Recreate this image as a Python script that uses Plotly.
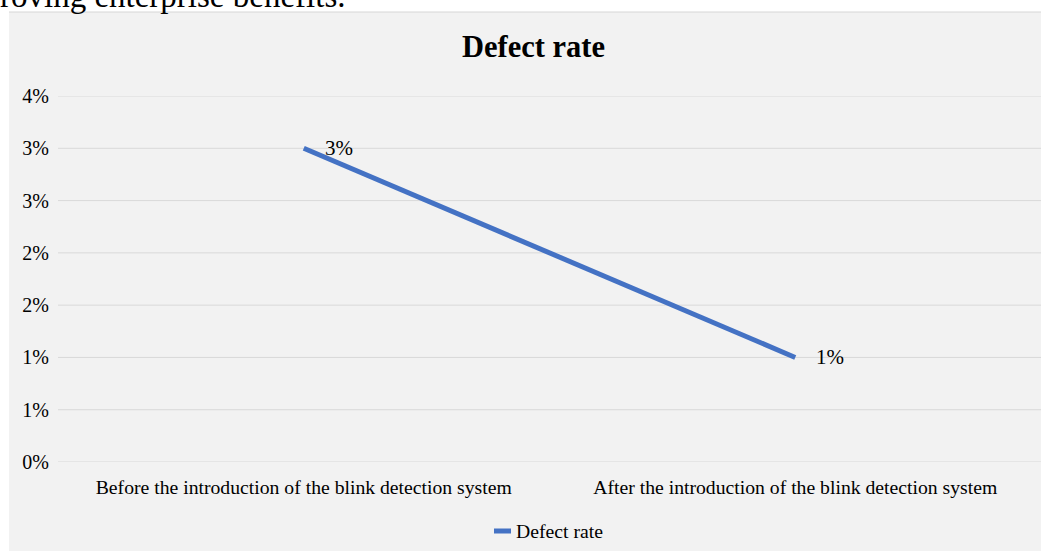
import plotly.graph_objects as go

# Chart data
categories = [
    "Before the introduction of the blink detection system",
    "After the introduction of the blink detection system",
]
defect_rate = [0.03, 0.01]
series_name = "Defect rate"
chart_title = "Defect rate"
y_tick_vals = [0, 0.005, 0.01, 0.015, 0.02, 0.025, 0.03, 0.035]
y_tick_text = ["0%", "1%", "1%", "2%", "2%", "3%", "3%", "4%"]
preceding_text = "roving enterprise benefits."

W, H = 1041, 551
ML, MR, MT, MB = 58, 0, 96, 89
PW, PH = W - ML - MR, H - MT - MB

SERIF = "Times New Roman, Liberation Serif, serif"
LINE_COLOR = "#4472C4"
GRID = "#d9d9d9"
BG = "#f2f2f2"


def px_x(p):
    return (p - ML) / PW


def px_y(p):
    return (H - MB - p) / PH


fig = go.Figure()
fig.add_trace(go.Scatter(
    x=categories, y=defect_rate, mode="lines", name=series_name,
    line=dict(color=LINE_COLOR, width=5), showlegend=False,
))

# value labels beside each point
for c, v in zip(categories, defect_rate):
    fig.add_annotation(
        x=c, y=v, xref="x", yref="y", text=f"{v:.0%}", showarrow=False,
        xanchor="left", yanchor="middle", xshift=19,
        font=dict(family=SERIF, size=21, color="#000"),
    )

shapes = [
    # chart area background
    dict(type="rect", xref="paper", yref="paper", layer="below",
         x0=px_x(9), x1=px_x(W + 2), y0=px_y(H + 2), y1=px_y(12),
         fillcolor=BG, line=dict(width=0)),
    dict(type="line", xref="paper", yref="paper", layer="below",
         x0=px_x(9), x1=px_x(W + 2), y0=px_y(12), y1=px_y(12),
         line=dict(color="#d6d6d6", width=1)),
    # legend sample
    dict(type="line", xref="paper", yref="paper",
         x0=px_x(494), x1=px_x(511), y0=px_y(531), y1=px_y(531),
         line=dict(color=LINE_COLOR, width=5)),
]
# horizontal gridlines at every y tick, including both edges
for tv in y_tick_vals:
    shapes.append(dict(type="line", xref="paper", yref="y", layer="below",
                       x0=0, x1=1, y0=tv, y1=tv,
                       line=dict(color=GRID, width=1)))

annotations = [
    dict(text=f"<b>{chart_title}</b>", xref="paper", yref="paper",
         x=px_x(533), y=px_y(47), xanchor="center", yanchor="middle",
         showarrow=False, font=dict(family=SERIF, size=30.5, color="#000")),
    dict(text=series_name, xref="paper", yref="paper",
         x=px_x(514), y=px_y(531), xanchor="left", yanchor="middle",
         showarrow=False, font=dict(family=SERIF, size=19.7, color="#000")),
    dict(text=preceding_text, xref="paper", yref="paper",
         x=px_x(-2), y=px_y(16), xanchor="left", yanchor="bottom",
         showarrow=False, font=dict(family=SERIF, size=33, color="#000")),
]
for a in annotations:
    fig.add_annotation(**a)

fig.update_layout(
    width=W, height=H,
    margin=dict(l=ML, r=MR, t=MT, b=MB, pad=0),
    paper_bgcolor="white", plot_bgcolor="rgba(0,0,0,0)",
    shapes=shapes, showlegend=False,
    font=dict(family=SERIF, size=20, color="#000"),
)
fig.update_xaxes(
    type="category", range=[-0.5, 1.5], showgrid=False, zeroline=False,
    showline=False, ticks="", ticklabelstandoff=11,
    tickfont=dict(family=SERIF, size=19.7, color="#000"),
)
fig.update_yaxes(
    range=[0, 0.035], tickvals=y_tick_vals, ticktext=y_tick_text,
    showgrid=False, zeroline=False,
    showline=False, ticks="", ticklabelstandoff=8,
    tickfont=dict(family=SERIF, size=20, color="#000"),
)

fig.write_html("out.html")
